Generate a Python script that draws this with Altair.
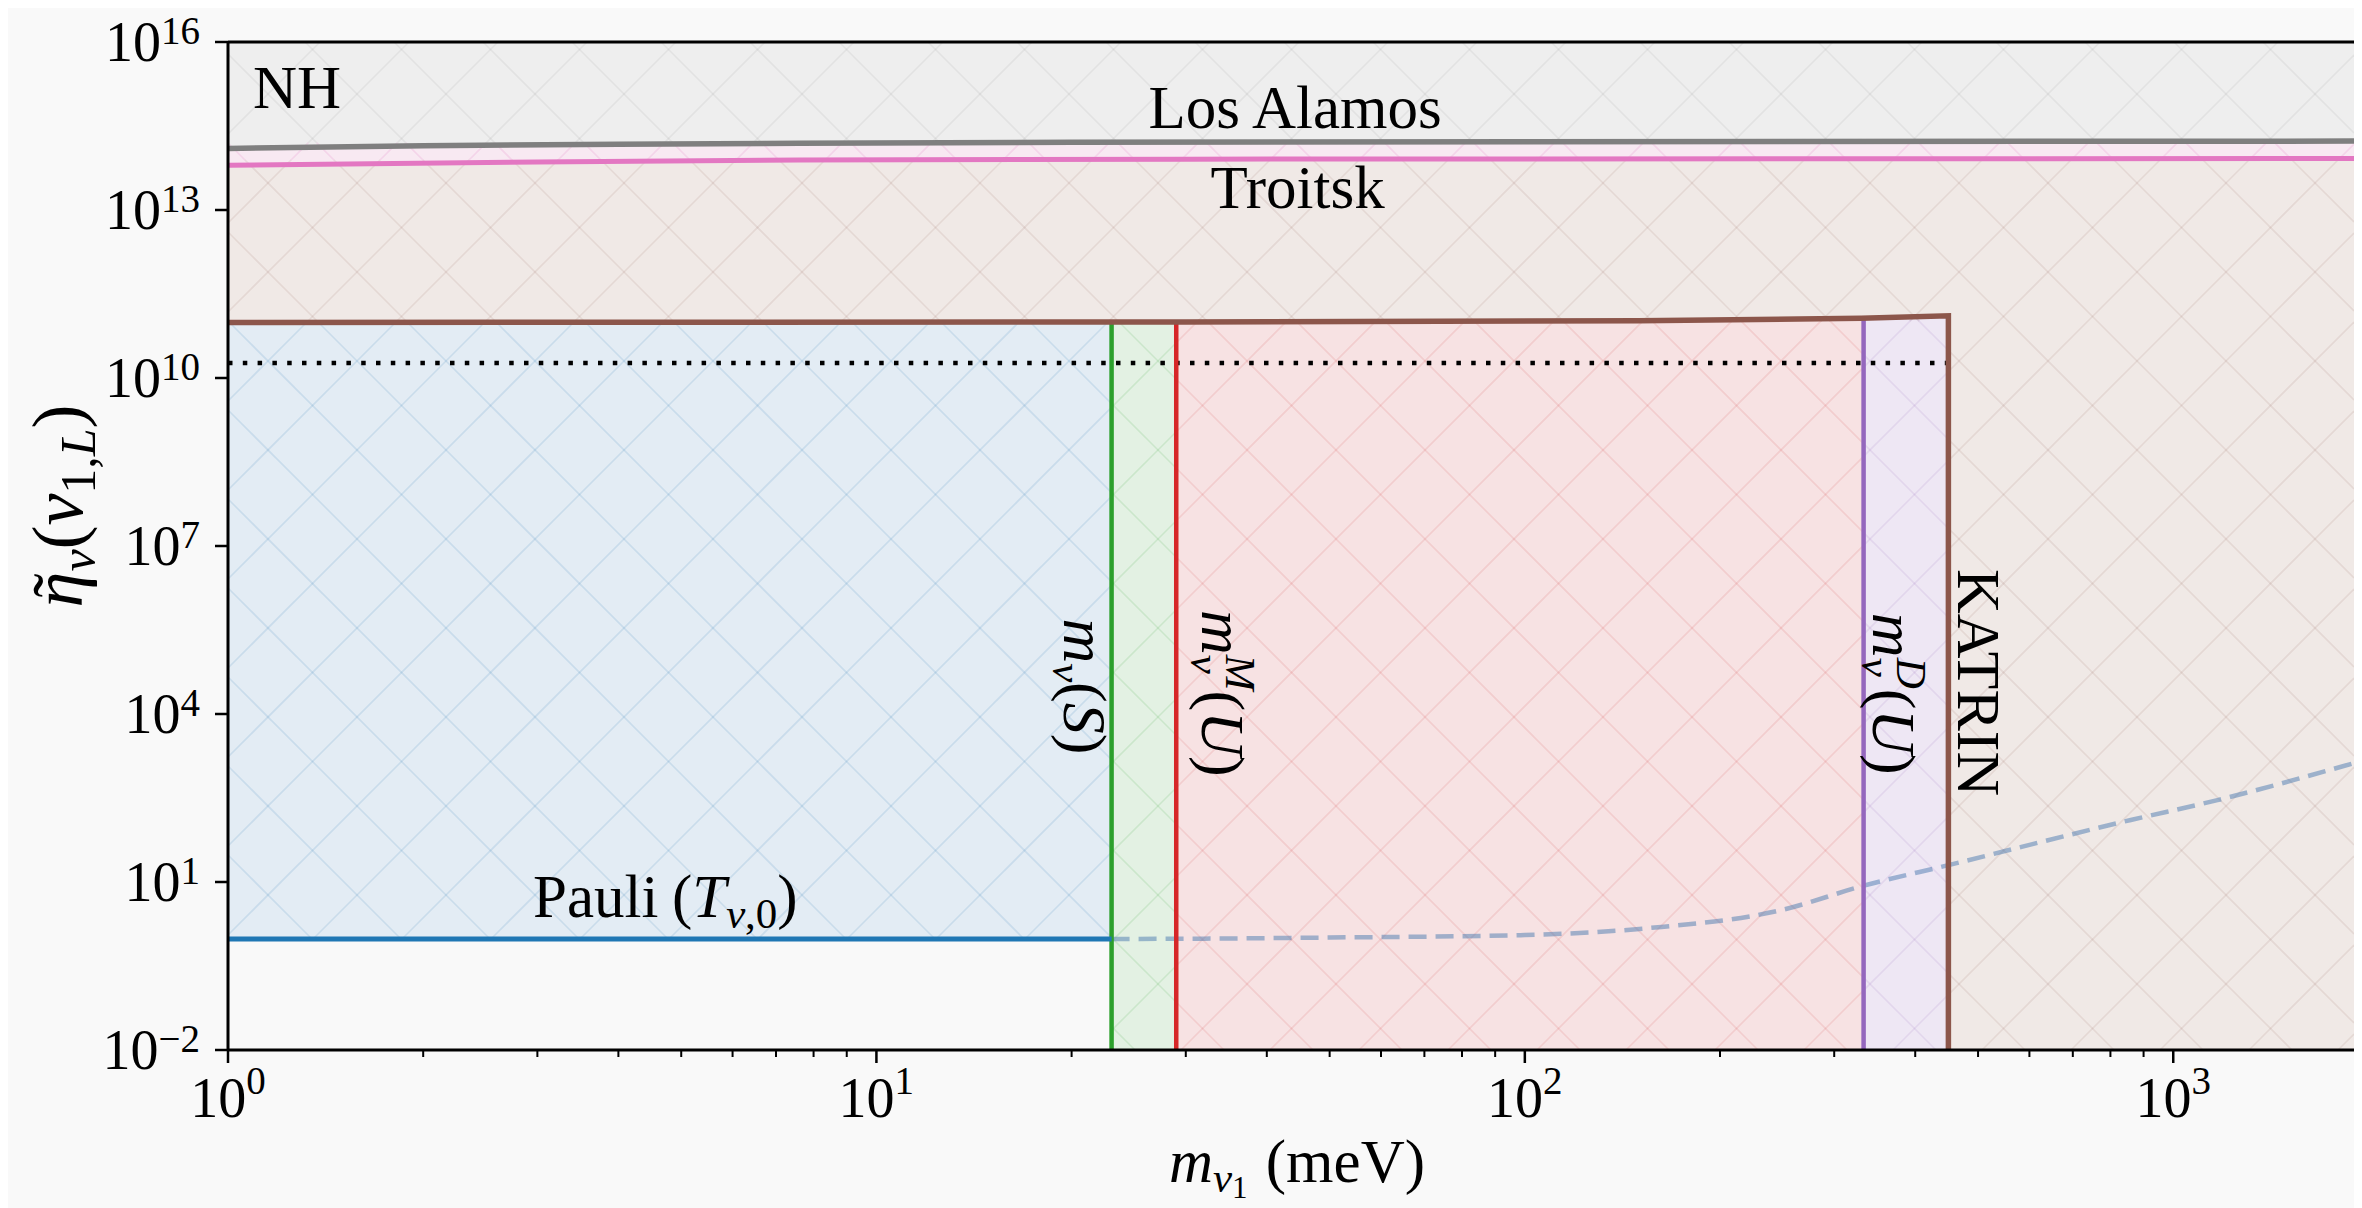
import math
import altair as alt
import pandas as pd

FONT = "Liberation Serif"
ST, SUBT = 56, 39           # tick labels
SL, SUBL, SSL = 61, 43, 31  # labels and titles
SR, SUBR = 62, 43           # rotated labels
SY, SUBY = 72, 50           # y title
W, H = 2126, 1008
X_DOMAIN = [1, 1900]
Y_DOMAIN = [1e-2, 1e16]

# ---------------- data ----------------
la_m = [1, 2, 4, 7.6, 20, 100, 1900]
la_eta = [1.26e14, 1.40e14, 1.50e14, 1.55e14, 1.62e14, 1.66e14, 1.70e14]
tr_m = [1, 3, 7.6, 30, 1900]
tr_eta = [6.3e13, 7.2e13, 7.8e13, 8.1e13, 8.3e13]
kat_m = [1, 30, 150, 330, 450, 450]
kat_eta = [9.8e10, 1.0e11, 1.05e11, 1.17e11, 1.29e11, 1e-2]
dot_m = [1, 450]
dot_eta = [1.86e10, 1.86e10]
pauli_m = [1, 23.05]
pauli_eta = [0.96, 0.96]
ext_m = [23.05, 30, 50, 100, 155, 250, 332, 450, 860, 1170, 1900]
ext_eta = [0.96, 0.97, 1.02, 1.13, 1.5, 3.2, 8.5, 20, 128, 290, 1330]
bound_name = ["S", "M", "D"]
bound_m = [23.05, 29.0, 333.0]
bound_top = [1.0e11, 1.0e11, 1.17e11]
bound_color = ["#2ca02c", "#d62728", "#9467bd"]

# shaded regions (rectangles in data space)
reg_name = ["KATRIN_top", "KATRIN_right", "Pauli", "S", "M", "D"]
reg_x1 = [1, 450, 1, 23.05, 29.0, 333.0]
reg_x2 = [1900, 1900, 23.05, 29.0, 333.0, 450]
reg_y1 = [1.0e11, 1e-2, 0.96, 1e-2, 1e-2, 1e-2]
reg_y2 = [1e16, 1.05e11, 1.0e11, 1.0e11, 1.1e11, 1.2e11]
reg_fill = ["#f0e9e6", "#f0e9e6", "#e3ecf4", "#e3f1e3", "#f7e2e3", "#eee7f4"]

# hatch regions
h_x1 = [1, 1, 1, 450, 1, 23.05, 29.0, 333.0]
h_x2 = [1900, 1900, 1900, 1900, 23.05, 29.0, 333.0, 450]
h_y1 = [1.6e14, 7.9e13, 1.03e11, 1e-2, 0.96, 1e-2, 1e-2, 1e-2]
h_y2 = [1e16, 1.6e14, 7.9e13, 1.03e11, 1.0e11, 1.0e11, 1.1e11, 1.2e11]
h_col = ["#7f7f7f", "#e377c2", "#8c564b", "#8c564b", "#1f77b4", "#2ca02c", "#d62728", "#9467bd"]
h_op = [0.10, 0.18, 0.11, 0.11, 0.13, 0.13, 0.11, 0.13]

x_major = [1, 10, 100, 1000]
x_major_exp = ["0", "1", "2", "3"]
x_minor = [k * 10 ** d for d in range(0, 4) for k in range(2, 10) if k * 10 ** d <= 1900]
y_major = [1e-2, 1e1, 1e4, 1e7, 1e10, 1e13, 1e16]
y_major_exp = ["\u22122", "1", "4", "7", "10", "13", "16"]

# ---------------- helpers ----------------
XS = alt.Scale(type="log", domain=X_DOMAIN, nice=False)
YS = alt.Scale(type="log", domain=Y_DOMAIN, nice=False)


def X(f="x"):
    return alt.X(f"{f}:Q", scale=XS, axis=None)


def Y(f="y"):
    return alt.Y(f"{f}:Q", scale=YS, axis=None)


LX0, LX1 = math.log10(X_DOMAIN[0]), math.log10(X_DOMAIN[1])
LY0, LY1 = math.log10(Y_DOMAIN[0]), math.log10(Y_DOMAIN[1])


def px(v):
    return W * (math.log10(v) - LX0) / (LX1 - LX0)


def py(v):
    return H * (LY1 - math.log10(v)) / (LY1 - LY0)


def ix(p):
    return 10 ** (LX0 + p / W * (LX1 - LX0))


def iy(p):
    return 10 ** (LY1 - p / H * (LY1 - LY0))


STEP, PA, PB = 89.0, 3.0, 77.0


def hatch(x1, x2, y1, y2):
    X1, X2 = px(x1), px(x2)
    Ya, Yb = py(y2), py(y1)
    segs = []
    c = PA + math.ceil((X1 + Ya - PA) / STEP) * STEP
    while c <= X2 + Yb:
        lo, hi = max(X1, c - Yb), min(X2, c - Ya)
        if hi > lo:
            segs.append((lo, c - lo, hi, c - hi))
        c += STEP
    c = PB + math.ceil((X1 - Yb - PB) / STEP) * STEP
    while c <= X2 - Ya:
        lo, hi = max(X1, c + Ya), min(X2, c + Yb)
        if hi > lo:
            segs.append((lo, lo - c, hi, hi - c))
        c += STEP
    return [(ix(a), iy(b), ix(cc), iy(d)) for a, b, cc, d in segs]


REG = {"(": .333, ")": .333, " ": .25, ",": .25, "\u2212": .564, "m": .778, "e": .444,
       "V": .722, "P": .556, "a": .444, "u": .5, "l": .278, "i": .278, "K": .722,
       "A": .722, "T": .611, "R": .667, "I": .333, "N": .722, "L": .611, "o": .5,
       "s": .389, "H": .722, "r": .333, "t": .278, "k": .5, "\u02dc": .333}
ITA = {"m": .722, "S": .5, "U": .722, "T": .556, "M": .833, "D": .722, "L": .556,
       "\u03bd": .44, "\u03b7": .5}


def tw(s, it, size):
    tbl = ITA if it else REG
    return sum(tbl.get(c, 0.5) for c in s) * size


ONE = pd.DataFrame({"a": [0]})


def compose(pieces, enc, data=ONE, angle=0, anchor="left"):
    """pieces: (text or None, italic, size, dy, advance=None, offset=0)"""
    advs = []
    for p in pieces:
        adv = p[4] if len(p) > 4 and p[4] is not None else tw(p[0] or "", p[1], p[2])
        advs.append(adv)
    total = sum(advs)
    cur = {"left": 0.0, "center": -total / 2, "right": -total}[anchor]
    out = []
    for p, adv in zip(pieces, advs):
        if p[0]:
            off = p[5] if len(p) > 5 else 0
            kw = dict(text=p[0], font=FONT, fontSize=p[2],
                      fontStyle="italic" if p[1] else "normal", align="left",
                      baseline="alphabetic", dx=round(cur + off, 1), dy=p[3],
                      color="black")
            if angle:
                kw["angle"] = angle
            out.append(alt.Chart(data).mark_text(**kw).encode(**enc))
        cur += adv
    return out


def point(x, y):
    return pd.DataFrame({"x": [x], "y": [y]})


# ---------------- layers ----------------
layers = []

rect_df = pd.DataFrame({"name": reg_name, "x": reg_x1, "x2": reg_x2,
                        "y": reg_y1, "y2": reg_y2, "fill": reg_fill})
layers.append(alt.Chart(rect_df).mark_rect(strokeWidth=0).encode(
    x=X(), x2="x2:Q", y=Y(), y2="y2:Q", color=alt.Color("fill:N", scale=None)))

tr_df = pd.DataFrame({"x": tr_m, "y": tr_eta, "top": [1e16] * len(tr_m)})
layers.append(alt.Chart(tr_df).mark_area(color="#f8e9f2").encode(x=X(), y=Y(), y2="top:Q"))
la_df = pd.DataFrame({"x": la_m, "y": la_eta, "top": [1e16] * len(la_m)})
layers.append(alt.Chart(la_df).mark_area(color="#eeeeee").encode(x=X(), y=Y(), y2="top:Q"))

rows = []
for i in range(len(h_x1)):
    for a, b, c, d in hatch(h_x1[i], h_x2[i], h_y1[i], h_y2[i]):
        rows.append({"x": a, "y": b, "x2": c, "y2": d, "col": h_col[i], "op": h_op[i]})
hatch_df = pd.DataFrame(rows)
layers.append(alt.Chart(hatch_df).mark_rule(strokeWidth=1.6).encode(
    x=X(), x2="x2:Q", y=Y(), y2="y2:Q", color=alt.Color("col:N", scale=None),
    opacity=alt.Opacity("op:Q", scale=None)))

ext_df = pd.DataFrame({"x": ext_m, "y": ext_eta})
layers.append(alt.Chart(ext_df).mark_line(color="#4a7ab0", opacity=0.5, strokeWidth=4.5,
                                          strokeDash=[18, 9], interpolate="monotone"
                                          ).encode(x=X(), y=Y()))

dot_df = pd.DataFrame({"x": dot_m, "y": dot_eta})
layers.append(alt.Chart(dot_df).mark_line(color="black", strokeWidth=4.5,
                                          strokeDash=[4.5, 10.3]).encode(x=X(), y=Y()))

layers.append(alt.Chart(la_df).mark_line(color="#7f7f7f", strokeWidth=5.5).encode(x=X(), y=Y()))
layers.append(alt.Chart(tr_df).mark_line(color="#e377c2", strokeWidth=5).encode(x=X(), y=Y()))

b_df = pd.DataFrame({"name": bound_name, "x": bound_m, "y": [1e-2] * 3, "y2": bound_top,
                     "col": bound_color})
layers.append(alt.Chart(b_df).mark_rule(strokeWidth=4.5).encode(
    x=X(), y=Y(), y2="y2:Q", color=alt.Color("col:N", scale=None)))

kat_df = pd.DataFrame({"x": kat_m, "y": kat_eta, "i": list(range(len(kat_m)))})
layers.append(alt.Chart(kat_df).mark_line(color="#8c564b", strokeWidth=5.5).encode(
    x=X(), y=Y(), order="i:Q"))

p_df = pd.DataFrame({"x": pauli_m, "y": pauli_eta})
layers.append(alt.Chart(p_df).mark_line(color="#1f77b4", strokeWidth=5).encode(x=X(), y=Y()))

# ---------------- annotations ----------------
DENC = {"x": X(), "y": Y()}
layers += compose([("NH", 0, SL, 0)], DENC, point(1.093, 6.6e14))
layers += compose([("Los Alamos", 0, SL, 0)], DENC, point(44.5, 2.9e14), anchor="center")
layers += compose([("Troitsk", 0, SL, 0)], DENC, point(44.8, 1.09e13), anchor="center")
layers += compose([("Pauli", 0, SL, 0), (None, 0, SL, 0, 0.22 * SL), ("(", 0, SL, 0),
                   ("T", 1, SL, 0), ("\u03bd", 1, SUBL, 11), (",0", 0, SUBL, 11),
                   (")", 0, SL, 0)], DENC, point(2.955, 2.37))
layers += compose([("m", 1, SR, 0), ("\u03bd", 1, SUBR, 11), ("(", 0, SR, 0),
                   ("S", 1, SR, 0), (")", 0, SR, 0)], DENC, point(19.5, 5.1e5), angle=90)
layers += compose([("m", 1, SR, 0), ("\u03bd", 1, SUBR, 11, 0), ("M", 1, SUBR, -24),
                   ("(", 0, SR, 0), ("U", 1, SR, 0), (")", 0, SR, 0)], DENC,
                  point(31.8, 7.2e5), angle=90)
layers += compose([("m", 1, SR, 0), ("\u03bd", 1, SUBR, 11, 0), ("D", 1, SUBR, -24),
                   ("(", 0, SR, 0), ("U", 1, SR, 0), (")", 0, SR, 0)], DENC,
                  point(344, 6.4e5), angle=90)
layers += compose([("KATRIN", 0, SR, 0)], DENC, point(466, 3.9e6), angle=90)

# axis titles
layers += compose([("m", 1, SL, 0), ("\u03bd", 1, SUBL, 10), ("1", 0, SSL, 16),
                   (None, 0, SL, 0, 0.3 * SL), ("(meV)", 0, SL, 0)],
                  {"x": alt.value(W / 2 + 6), "y": alt.value(H + 132)}, anchor="center")
layers += compose([("\u03b7", 1, SY, 0, 0), ("\u02dc", 0, SY, 0, 0.5 * SY, 0.14 * SY),
                   ("\u03bd", 1, SUBY, 13), ("(", 0, SY, 0),
                   ("\u03bd", 1, SY, 0), ("1,", 0, SUBY, 13), ("L", 1, SUBY, 13),
                   (")", 0, SY, 0)],
                  {"x": alt.value(-146), "y": alt.value(464)}, angle=270, anchor="center")

# tick labels
for v, e in zip(y_major, y_major_exp):
    layers += compose([("10", 0, ST, 19), (e, 0, SUBT, 2)],
                      {"x": alt.value(-28), "y": Y()}, point(1, v), anchor="right")
for v, e in zip(x_major, x_major_exp):
    layers += compose([("10", 0, ST, 0), (e, 0, SUBT, -23)],
                      {"x": X(), "y": alt.value(H + 67)}, point(v, 1), anchor="center")

# ticks and spines
xt_df = pd.DataFrame({"x": x_major})
layers.append(alt.Chart(xt_df).mark_rule(color="black", strokeWidth=2.5).encode(
    x=X(), y=alt.value(H), y2=alt.value(H + 13)))
xm_df = pd.DataFrame({"x": x_minor})
layers.append(alt.Chart(xm_df).mark_rule(color="black", strokeWidth=2).encode(
    x=X(), y=alt.value(H), y2=alt.value(H + 7)))
yt_df = pd.DataFrame({"y": y_major})
layers.append(alt.Chart(yt_df).mark_rule(color="black", strokeWidth=2.5).encode(
    y=Y(), x=alt.value(0), x2=alt.value(-13)))
layers.append(alt.Chart(ONE).mark_rule(color="black", strokeWidth=3).encode(
    x=alt.value(0), y=alt.value(0), y2=alt.value(H)))
layers.append(alt.Chart(ONE).mark_rule(color="black", strokeWidth=3).encode(
    x=alt.value(0), x2=alt.value(W), y=alt.value(H)))
layers.append(alt.Chart(ONE).mark_rule(color="black", strokeWidth=3).encode(
    x=alt.value(0), x2=alt.value(W), y=alt.value(0)))

chart = alt.layer(*layers).properties(
    width=W, height=H,
    autosize=alt.AutoSizeParams(type="none"),
    padding={"left": 220, "top": 34, "right": 0, "bottom": 158},
    background="#f9f9f9",
).configure_view(stroke=None, fill="#f9f9f9")

chart.save("out.html", embed_options={"renderer": "svg", "actions": False})
